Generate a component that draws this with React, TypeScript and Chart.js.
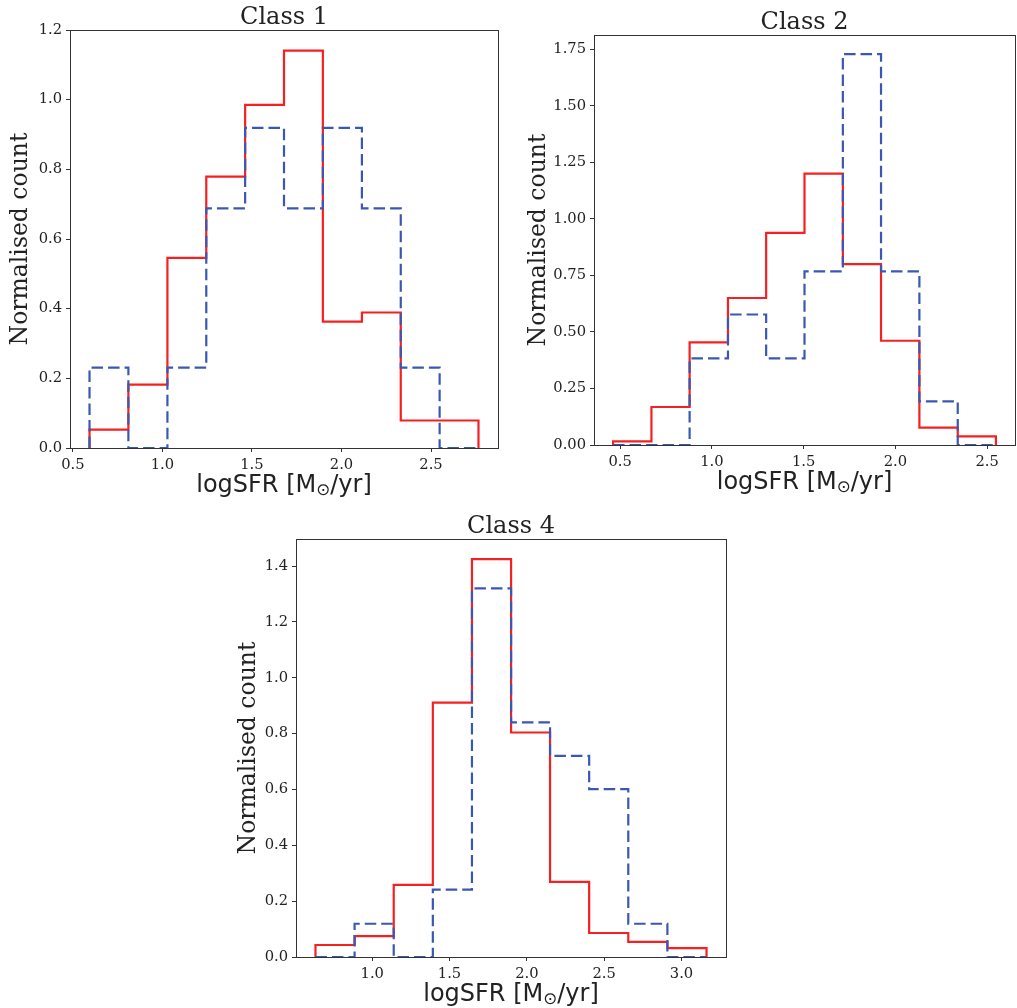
import React, { useEffect, useRef } from "react";
import { Chart, registerables } from "chart.js";

Chart.register(...registerables);

// ---------- Data ----------
const class1Edges = [0.593, 0.810, 1.028, 1.245, 1.462, 1.679, 1.896, 2.114, 2.331, 2.548, 2.765];
const class1Red = [0.053, 0.182, 0.546, 0.779, 0.985, 1.141, 0.363, 0.389, 0.079, 0.079];
const class1Blue = [0.231, 0.0, 0.231, 0.688, 0.919, 0.688, 0.919, 0.688, 0.231, 0.0];
const class1XTicks = [0.5, 1.0, 1.5, 2.0, 2.5];
const class1YTicks = [0.0, 0.2, 0.4, 0.6, 0.8, 1.0, 1.2];
const class1XRange = [0.484, 2.874];
const class1YRange = [0, 1.2];

const class2Edges = [0.462, 0.671, 0.879, 1.088, 1.296, 1.505, 1.714, 1.922, 2.131, 2.340, 2.548];
const class2Red = [0.016, 0.168, 0.454, 0.650, 0.938, 1.200, 0.800, 0.461, 0.077, 0.038];
const class2Blue = [0.0, 0.0, 0.383, 0.577, 0.383, 0.768, 1.728, 0.768, 0.193, 0.0];
const class2XTicks = [0.5, 1.0, 1.5, 2.0, 2.5];
const class2YTicks = [0.0, 0.25, 0.5, 0.75, 1.0, 1.25, 1.5, 1.75];
const class2XRange = [0.358, 2.652];
const class2YRange = [0, 1.813];

const class4Edges = [0.633, 0.886, 1.139, 1.392, 1.645, 1.898, 2.150, 2.403, 2.656, 2.909, 3.162];
const class4Red = [0.043, 0.075, 0.258, 0.911, 1.425, 0.804, 0.269, 0.086, 0.054, 0.032];
const class4Blue = [0.0, 0.119, 0.0, 0.241, 1.320, 0.840, 0.720, 0.601, 0.119, 0.0];
const class4XTicks = [1.0, 1.5, 2.0, 2.5, 3.0];
const class4YTicks = [0.0, 0.2, 0.4, 0.6, 0.8, 1.0, 1.2, 1.4];
const class4XRange = [0.507, 3.288];
const class4YRange = [0, 1.497];

const yLabel = "Normalised count";
const xLabelParts = ["logSFR [M", "\u2299", "/yr]"];

// ---------- Styles ----------
const RED = "rgb(246,32,32)";
const BLUE = "rgb(58,88,178)";
const TEXT = "#222";
const AXIS = "#333";
const SERIF = "'DejaVu Serif', 'Liberation Serif', serif";
const SANS = "'DejaVu Sans', 'Liberation Sans', sans-serif";

function steps(edges: number[], vals: number[]) {
  const pts: { x: number; y: number }[] = [{ x: edges[0], y: 0 }];
  vals.forEach((v, i) => {
    pts.push({ x: edges[i], y: v });
    pts.push({ x: edges[i + 1], y: v });
  });
  pts.push({ x: edges[edges.length - 1], y: 0 });
  return pts;
}

const framePlugin = {
  id: "frame",
  afterDatasetsDraw(chart: any) {
    const { ctx, chartArea } = chart;
    ctx.save();
    ctx.strokeStyle = AXIS;
    ctx.lineWidth = 1;
    ctx.strokeRect(
      Math.round(chartArea.left) + 0.5,
      Math.round(chartArea.top) + 0.5,
      Math.round(chartArea.right - chartArea.left),
      Math.round(chartArea.bottom - chartArea.top)
    );
    ctx.restore();
  },
};

const xLabelPlugin = {
  id: "xLabelSub",
  afterDraw(chart: any) {
    const { ctx, chartArea } = chart;
    ctx.save();
    ctx.fillStyle = TEXT;
    ctx.textBaseline = "alphabetic";
    ctx.textAlign = "left";
    const mainFont = `24px ${SANS}`;
    const subFont = `16.8px ${SANS}`;
    ctx.font = mainFont;
    const w1 = ctx.measureText(xLabelParts[0]).width;
    const w3 = ctx.measureText(xLabelParts[2]).width;
    ctx.font = subFont;
    const w2 = ctx.measureText(xLabelParts[1]).width;
    let x = (chartArea.left + chartArea.right) / 2 - (w1 + w2 + w3) / 2;
    const y = chartArea.bottom + 44;
    ctx.font = mainFont;
    ctx.fillText(xLabelParts[0], x, y);
    x += w1;
    ctx.font = subFont;
    ctx.fillText(xLabelParts[1], x, y + 3);
    x += w2;
    ctx.font = mainFont;
    ctx.fillText(xLabelParts[2], x, y);
    ctx.restore();
  },
};

type PanelProps = {
  title: string;
  edges: number[];
  red: number[];
  blue: number[];
  xTicks: number[];
  yTicks: number[];
  xRange: number[];
  yRange: number[];
  yDecimals: number;
  left: number;
  top: number;
  width: number;
  height: number;
  padTop: number;
  padRight: number;
  yWidth: number;
  xHeight: number;
  yTitlePad: number;
};

function Panel(p: PanelProps) {
  const ref = useRef<HTMLCanvasElement | null>(null);
  useEffect(() => {
    if (!ref.current) return;
    const chart = new Chart(ref.current, {
      type: "line",
      data: {
        datasets: [
          {
            data: steps(p.edges, p.blue),
            borderColor: BLUE,
            borderWidth: 2.2,
            borderDash: [11.5, 5],
            pointRadius: 0,
            fill: false,
            tension: 0,
            clip: false,
          } as any,
          {
            data: steps(p.edges, p.red),
            borderColor: RED,
            borderWidth: 2.2,
            pointRadius: 0,
            fill: false,
            tension: 0,
            clip: false,
          } as any,
        ],
      },
      options: {
        animation: false,
        responsive: false,
        devicePixelRatio: 1,
        layout: { padding: { left: 0, top: p.padTop, right: p.padRight, bottom: 0 } },
        plugins: {
          legend: { display: false },
          tooltip: { enabled: false },
          title: {
            display: true,
            fullSize: false,
            text: p.title,
            color: TEXT,
            font: { family: SERIF, size: 24, weight: "normal", lineHeight: 1 },
            padding: 0,
          },
        },
        scales: {
          x: {
            type: "linear",
            min: p.xRange[0],
            max: p.xRange[1],
            afterBuildTicks: (s: any) => {
              s.ticks = p.xTicks.map((v) => ({ value: v }));
            },
            afterFit: (s: any) => {
              s.height = p.xHeight;
            },
            grid: { drawOnChartArea: false, drawTicks: true, tickLength: 4, color: AXIS, lineWidth: 1 },
            border: { display: false },
            ticks: {
              autoSkip: false,
              maxRotation: 0,
              minRotation: 0,
              padding: 4,
              color: TEXT,
              font: { family: SERIF, size: 14.7 },
              callback: (v: any) => Number(v).toFixed(1),
            },
          },
          y: {
            type: "linear",
            min: p.yRange[0],
            max: p.yRange[1],
            afterBuildTicks: (s: any) => {
              s.ticks = p.yTicks.map((v) => ({ value: v }));
            },
            afterFit: (s: any) => {
              s.width = p.yWidth;
            },
            grid: { drawOnChartArea: false, drawTicks: true, tickLength: 4, color: AXIS, lineWidth: 1 },
            border: { display: false },
            ticks: {
              autoSkip: false,
              padding: 4,
              color: TEXT,
              font: { family: SERIF, size: 14.7 },
              callback: (v: any) => Number(v).toFixed(p.yDecimals),
            },
            title: {
              display: true,
              text: yLabel,
              color: TEXT,
              font: { family: SERIF, size: 23.5, lineHeight: 1 },
              padding: { top: p.yTitlePad, bottom: 0 },
            },
          },
        },
      } as any,
      plugins: [framePlugin, xLabelPlugin],
    });
    return () => chart.destroy();
  }, []);
  return (
    <canvas
      ref={ref}
      width={p.width}
      height={p.height}
      style={{ position: "absolute", left: p.left, top: p.top, width: p.width, height: p.height }}
    />
  );
}

export default function App() {
  return (
    <div style={{ position: "absolute", left: 0, top: 0, width: 1017, height: 1008, background: "#fff" }}>
      <Panel
        title="Class 1"
        edges={class1Edges}
        red={class1Red}
        blue={class1Blue}
        xTicks={class1XTicks}
        yTicks={class1YTicks}
        xRange={class1XRange}
        yRange={class1YRange}
        yDecimals={1}
        left={0}
        top={0}
        width={510}
        height={505}
        padTop={6}
        padRight={12}
        yWidth={70}
        xHeight={57}
        yTitlePad={9}
      />
      <Panel
        title="Class 2"
        edges={class2Edges}
        red={class2Red}
        blue={class2Blue}
        xTicks={class2XTicks}
        yTicks={class2YTicks}
        xRange={class2XRange}
        yRange={class2YRange}
        yDecimals={2}
        left={520}
        top={0}
        width={497}
        height={500}
        padTop={11}
        padRight={2}
        yWidth={74}
        xHeight={55}
        yTitlePad={7}
      />
      <Panel
        title="Class 4"
        edges={class4Edges}
        red={class4Red}
        blue={class4Blue}
        xTicks={class4XTicks}
        yTicks={class4YTicks}
        xRange={class4XRange}
        yRange={class4YRange}
        yDecimals={1}
        left={220}
        top={500}
        width={520}
        height={508}
        padTop={15}
        padRight={14}
        yWidth={76}
        xHeight={51}
        yTitlePad={17}
      />
    </div>
  );
}
